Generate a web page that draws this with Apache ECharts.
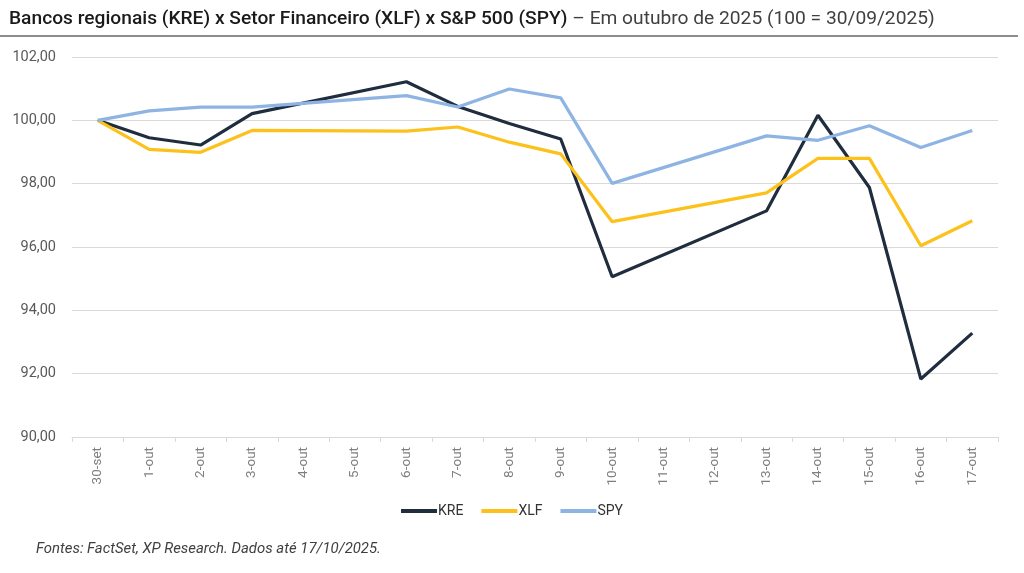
<!DOCTYPE html>
<html>
<head>
<meta charset="utf-8">
<script src="https://cdn.jsdelivr.net/npm/echarts@6/dist/echarts.min.js"></script>
<style>html,body{margin:0;padding:0;background:#fff}#c{width:1024px;height:573px}</style>
</head>
<body>
<div id="c"></div>
<script>
const categories = ['30-set','1-out','2-out','3-out','4-out','5-out','6-out','7-out','8-out','9-out','10-out','11-out','12-out','13-out','14-out','15-out','16-out','17-out'];
// null = weekend (no trading), lines connect across
const kre = [100, 99.45, 99.22, 100.21, null, null, 101.22, 100.44, 99.90, 99.41, 95.06, null, null, 97.14, 100.16, 97.88, 91.83, 93.28];
const xlf = [100, 99.08, 98.99, 99.68, null, null, 99.66, 99.79, 99.31, 98.94, 96.80, null, null, 97.71, 98.80, 98.80, 96.04, 96.83];
const spy = [100, 100.30, 100.42, 100.42, null, null, 100.78, 100.42, 100.99, 100.71, 98.01, null, null, 99.51, 99.37, 99.83, 99.14, 99.68];
const yTicks = [90, 92, 94, 96, 98, 100, 102];

const chart = echarts.init(document.getElementById('c'));
const font = 'Roboto';
function mk(name, data, color) {
  return {name, type:'line', data, connectNulls:true, symbol:'none', smooth:false,
    lineStyle:{color, width:3.2}, itemStyle:{color}};
}
chart.setOption({
  animation:false,
  textStyle:{fontFamily:font},
  title:{
    left:4, top:5,
    text:'{a|Bancos regionais (KRE) x Setor Financeiro (XLF) x S&P 500 (SPY)}{b| – Em outubro de 2025 (100 = 30/09/2025)}',
    textStyle:{rich:{
      a:{fontFamily:font, fontSize:19.2, fontWeight:500, color:'#1a1a1a'},
      b:{fontFamily:font, fontSize:19.2, fontWeight:400, color:'#404040'}
    }}
  },
  graphic:[
    {type:'rect', shape:{x:0, y:35, width:1018, height:2}, style:{fill:'#8c8c8c'}},
    {type:'text', left:36, top:542, style:{text:'Fontes: FactSet, XP Research. Dados até 17/10/2025.', font:'italic 14.9px Roboto', fill:'#404040'}}
  ],
  legend:{
    bottom:50, left:'center', itemWidth:36, itemHeight:4, itemGap:18,
    icon:'rect',
    textStyle:{fontSize:14, color:'#333', padding:[0,0,0,-4]},
    data:['KRE','XLF','SPY']
  },
  grid:{left:72, right:26, top:57, bottom:136},
  xAxis:{
    type:'category', data:categories, boundaryGap:true,
    axisLine:{lineStyle:{color:'#d9d9d9'}},
    axisTick:{show:true, length:5, lineStyle:{color:'#d9d9d9'}},
    axisLabel:{rotate:90, color:'#7f7f7f', fontSize:13.5, margin:10, interval:0}
  },
  yAxis:{
    type:'value', min:90, max:102, interval:2,
    axisLine:{show:false}, axisTick:{show:false},
    splitLine:{lineStyle:{color:'#d9d9d9'}},
    axisLabel:{color:'#595959', fontSize:14.5, margin:16,
      formatter:v => yTicks.includes(v) ? v.toFixed(2).replace('.', ',') : ''}
  },
  series:[
    mk('KRE', kre, '#1f2d3f'),
    mk('XLF', xlf, '#fcc11a'),
    mk('SPY', spy, '#8eb4e3')
  ]
});
</script>
</body>
</html>
